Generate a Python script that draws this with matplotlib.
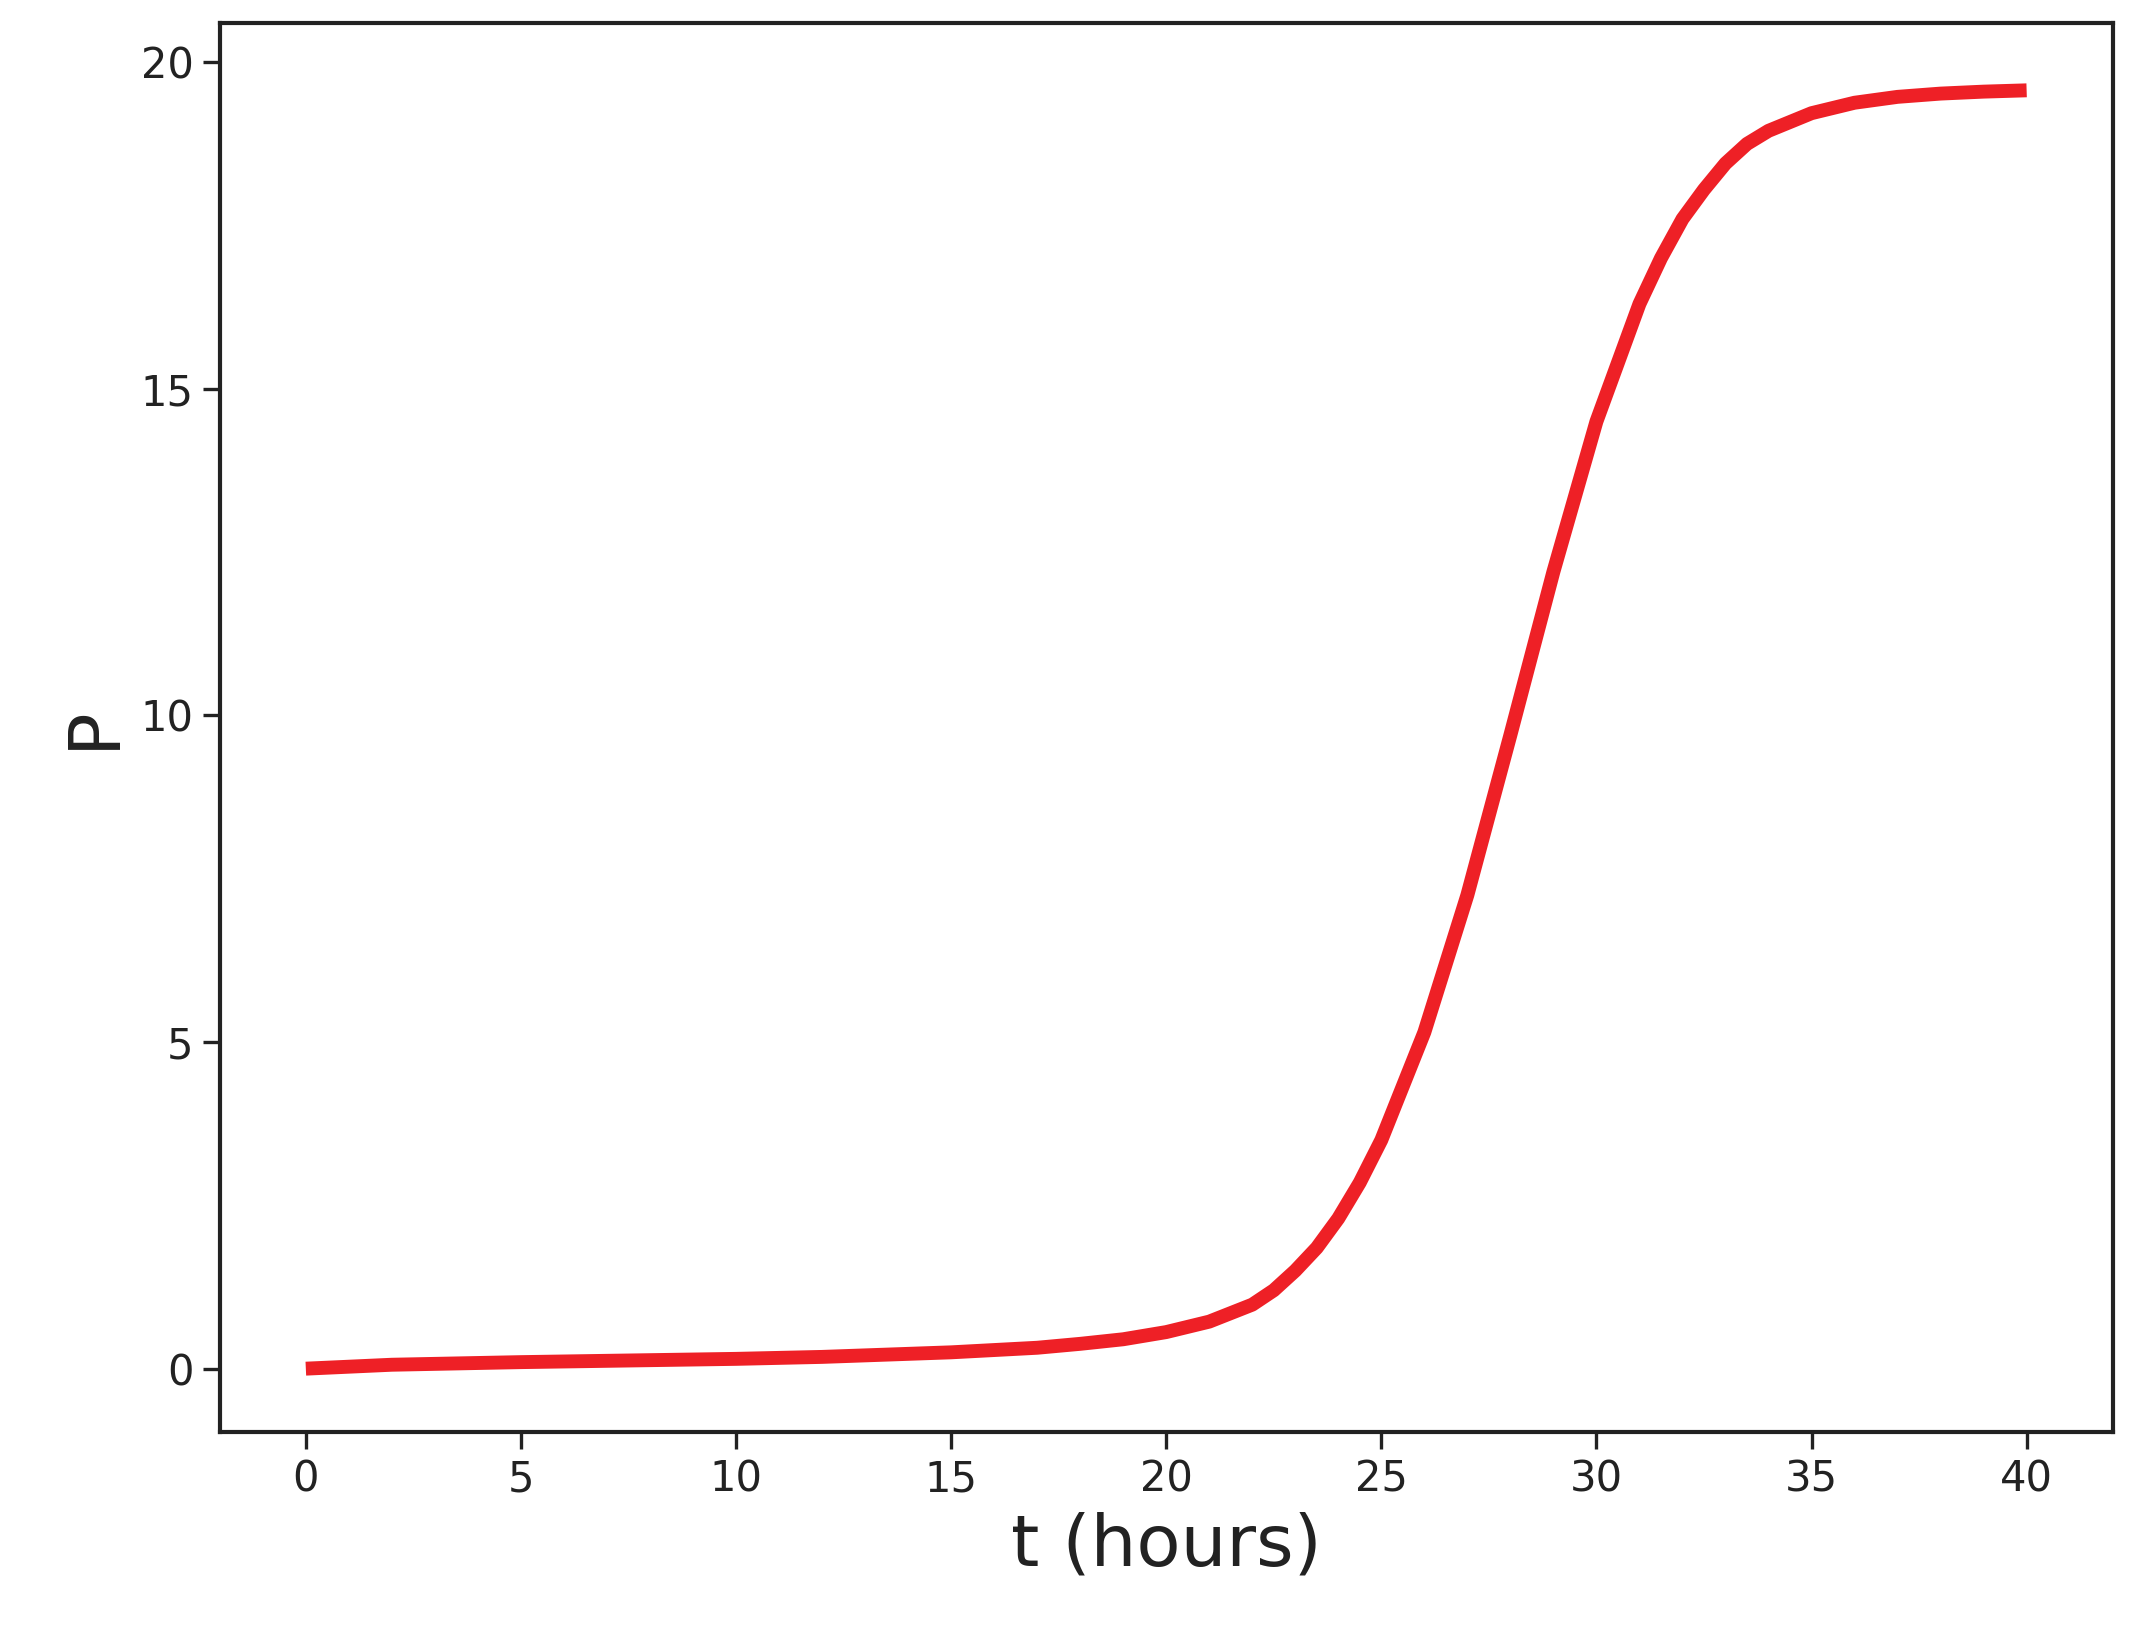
import matplotlib
matplotlib.use("Agg")
import matplotlib.pyplot as plt

# values
t = [0, 2, 5, 8, 10, 12, 15, 17, 18, 19, 20, 21, 22, 22.5, 23, 23.5, 24, 24.5, 25,
     26, 27, 28, 29, 30, 31, 31.5, 32, 32.5, 33, 33.5, 34, 35, 36, 37, 38, 39, 40]
P = [0.0, 0.06, 0.1, 0.13, 0.15, 0.18, 0.25, 0.32, 0.38, 0.45, 0.56, 0.72, 0.98, 1.2,
     1.5, 1.85, 2.3, 2.85, 3.5, 5.15, 7.25, 9.7, 12.2, 14.5, 16.3, 17.0, 17.6, 18.05,
     18.45, 18.75, 18.95, 19.22, 19.38, 19.47, 19.52, 19.55, 19.57]

plt.rcParams['font.family'] = ['DejaVu Sans']
fig = plt.figure(figsize=(10.67, 8.23), dpi=200)
ax = fig.add_axes([0.103, 0.130, 0.887, 0.856])
ax.plot(t, P, color='#ee2026', lw=5, solid_capstyle='butt')
ax.set_xlim(-2, 42)
ax.set_ylim(-0.97, 20.6)
ax.set_xticks(range(0, 41, 5))
ax.set_yticks(range(0, 21, 5))
ax.tick_params(labelsize=15, length=6, width=1.2, colors='#222222')
for s in ax.spines.values():
    s.set_linewidth(1.5)
    s.set_color('#222222')
ax.set_xlabel('t (hours)', fontsize=26, color='#222222')
ax.set_ylabel('P', fontsize=26, color='#222222')
fig.savefig('out.png', dpi=200)
